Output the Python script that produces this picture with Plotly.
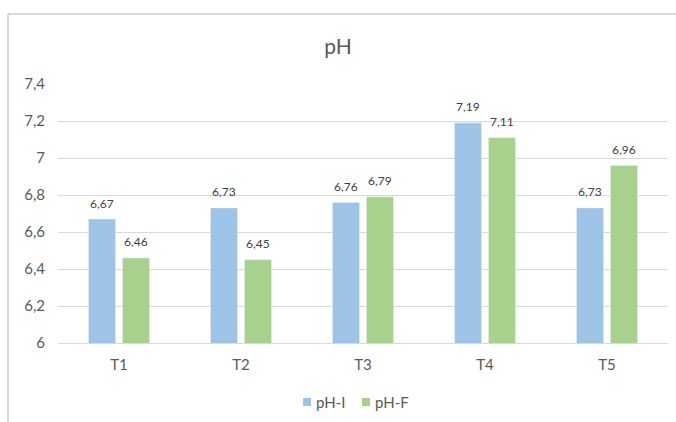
import plotly.graph_objects as go

categories = ["T1", "T2", "T3", "T4", "T5"]
ph_i = [6.67, 6.73, 6.76, 7.19, 6.73]
ph_f = [6.46, 6.45, 6.79, 7.11, 6.96]
y_ticks = [6, 6.2, 6.4, 6.6, 6.8, 7, 7.2, 7.4]
series_names = ["pH-I", "pH-F"]
series_colors = ["#9DC3E6", "#A9D18E"]

FONT = "Lato"
L, R, T, B = 58, 8, 84, 79
W, H = 676, 422
PW, PH = W - L - R, H - T - B


def px(x):
    return (x - L) / PW


def py(y):
    return (H - B - y) / PH


fig = go.Figure()
for name, vals, col in zip(series_names, (ph_i, ph_f), series_colors):
    fig.add_trace(go.Bar(name=name, x=categories, y=vals, marker_color=col, showlegend=False))

annotations = []
for vals, shift in ((ph_i, -17), (ph_f, 17)):
    for c, v in zip(categories, vals):
        annotations.append(dict(x=c, y=v, xref="x", yref="y", text=f"{v:.2f}".replace(".", ","),
                                showarrow=False, xshift=shift, yshift=16, yanchor="middle",
                                font=dict(size=12, color="#404040", family=FONT)))

shapes = [
    dict(type="line", xref="paper", yref="paper", x0=px(8), x1=1.1,
         y0=py(14), y1=py(14), line=dict(color="#D9D9D9", width=2)),
    dict(type="line", xref="paper", yref="paper", x0=px(8), x1=px(8),
         y0=py(14), y1=-0.5, line=dict(color="#D9D9D9", width=2)),
]

# custom legend (compact, like the reference)
legend_x = [303, 362]
for name, col, lx in zip(series_names, series_colors, legend_x):
    shapes.append(dict(type="rect", xref="paper", yref="paper", x0=px(lx), x1=px(lx + 8),
                       y0=py(406), y1=py(398), fillcolor=col, line=dict(width=0)))
    annotations.append(dict(x=px(lx + 11), y=py(402), xref="paper", yref="paper", text=name,
                            showarrow=False, xanchor="left", yanchor="middle",
                            font=dict(size=15, color="#595959", family=FONT)))

fig.update_layout(
    width=W, height=H,
    margin=dict(l=L, r=R, t=T, b=B, autoexpand=False),
    paper_bgcolor="white", plot_bgcolor="white",
    separators=",.",
    font=dict(family=FONT, color="#595959"),
    title=dict(text="pH", x=0.5, xanchor="center", y=1 - 47 / H, yanchor="middle",
               font=dict(size=21, color="#595959", family=FONT)),
    barmode="group", bargap=0.443, bargroupgap=0.206,
    showlegend=False,
    xaxis=dict(showline=True, linecolor="#D9D9D9", linewidth=1, ticks="", showgrid=False,
               tickfont=dict(size=15, color="#595959", family=FONT), ticklabelstandoff=8),
    yaxis=dict(range=[6, 7.4], tickvals=y_ticks, showgrid=True, gridcolor="#D9D9D9",
               gridwidth=1, zeroline=False, showline=False, ticks="",
               tickfont=dict(size=15, color="#595959", family=FONT), ticklabelstandoff=12),
    annotations=annotations,
    shapes=shapes,
)
fig.write_html("out.html", config={"displayModeBar": False},
               post_script="document.body.style.margin='0';document.body.style.overflow='hidden';")
